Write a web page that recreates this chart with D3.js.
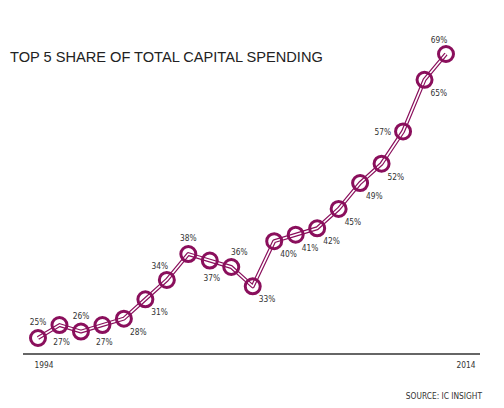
<!DOCTYPE html>
<html><head><meta charset="utf-8">
<script src="https://cdn.jsdelivr.net/npm/d3@7"></script>
<style>
html,body{margin:0;padding:0;background:#fff;}
svg{display:block;}
</style></head>
<body>
<script>
const title = "TOP 5 SHARE OF TOTAL CAPITAL SPENDING";
const source = "SOURCE: IC INSIGHT";
const years = [1994,1995,1996,1997,1998,1999,2000,2001,2002,2003,2004,2005,2006,2007,2008,2009,2010,2011,2012,2013];
const shares = [25,27,26,27,28,31,34,38,37,36,33,40,41,42,45,49,52,57,65,69];
const labelPlacement = ["above","below","above","below","belowRight","belowRight","aboveLeft","above","below","aboveRight","belowRight","belowRight","belowRight","belowRight","belowRight","belowRight","belowRight","left","belowRight","aboveLeft"];
const axisLabels = ["1994","2014"];

const W = 504, H = 408;
const color = "#8a0f5c";
const svg = d3.select("body").append("svg").attr("width", W).attr("height", H);

const x = d3.scaleLinear().domain([0, years.length - 1]).range([38, 446]);
const y = d3.scaleLinear().domain([25, 69]).range([338, 54]);

svg.append("text").attr("x", 10).attr("y", 62)
  .attr("font-family", "Liberation Sans, Arial, sans-serif")
  .attr("font-size", 14.6).attr("fill", "#222").text(title);

// baseline axis
svg.append("line").attr("x1", 23).attr("x2", 480).attr("y1", 354).attr("y2", 354)
  .attr("stroke", "#333").attr("stroke-width", 1.5);

const small = "DejaVu Sans Condensed, Liberation Sans Narrow, sans-serif";
const fs = 8.3;
svg.append("text").attr("x", 44).attr("y", 368).attr("text-anchor", "middle")
  .attr("font-family", small).attr("font-stretch", "condensed").attr("font-size", fs).attr("fill", "#333").text(axisLabels[0]);
svg.append("text").attr("x", 466).attr("y", 368).attr("text-anchor", "middle")
  .attr("font-family", small).attr("font-stretch", "condensed").attr("font-size", fs).attr("fill", "#333").text(axisLabels[1]);
svg.append("text").attr("x", 482).attr("y", 399).attr("text-anchor", "end")
  .attr("font-family", small).attr("font-stretch", "condensed").attr("font-size", fs).attr("fill", "#333").text(source);

const line = d3.line().x((d, i) => x(i)).y(d => y(d));
svg.append("path").datum(shares).attr("d", line).attr("fill", "none")
  .attr("stroke", color).attr("stroke-width", 4).attr("stroke-linejoin", "round");
svg.append("path").datum(shares).attr("d", line).attr("fill", "none")
  .attr("stroke", "#fff").attr("stroke-width", 1.6).attr("stroke-linejoin", "round");

svg.selectAll("circle.pt").data(shares).enter().append("circle")
  .attr("class", "pt").attr("cx", (d, i) => x(i)).attr("cy", d => y(d)).attr("r", 7.5)
  .attr("fill", "none").attr("stroke", color).attr("stroke-width", 3);

const off = {
  above: [0, -13, "middle"],
  below: [2, 20, "middle"],
  aboveLeft: [-7, -11, "middle"],
  aboveRight: [8, -12, "middle"],
  belowRight: [6, 16, "start"],
  left: [-12, 4, "end"]
};
svg.selectAll("text.lbl").data(shares).enter().append("text")
  .attr("class", "lbl")
  .attr("x", (d, i) => x(i) + off[labelPlacement[i]][0])
  .attr("y", (d, i) => y(d) + off[labelPlacement[i]][1])
  .attr("text-anchor", (d, i) => off[labelPlacement[i]][2])
  .attr("font-family", small).attr("font-stretch", "condensed").attr("font-size", fs).attr("fill", "#333")
  .text(d => d + "%");
</script>
</body></html>
